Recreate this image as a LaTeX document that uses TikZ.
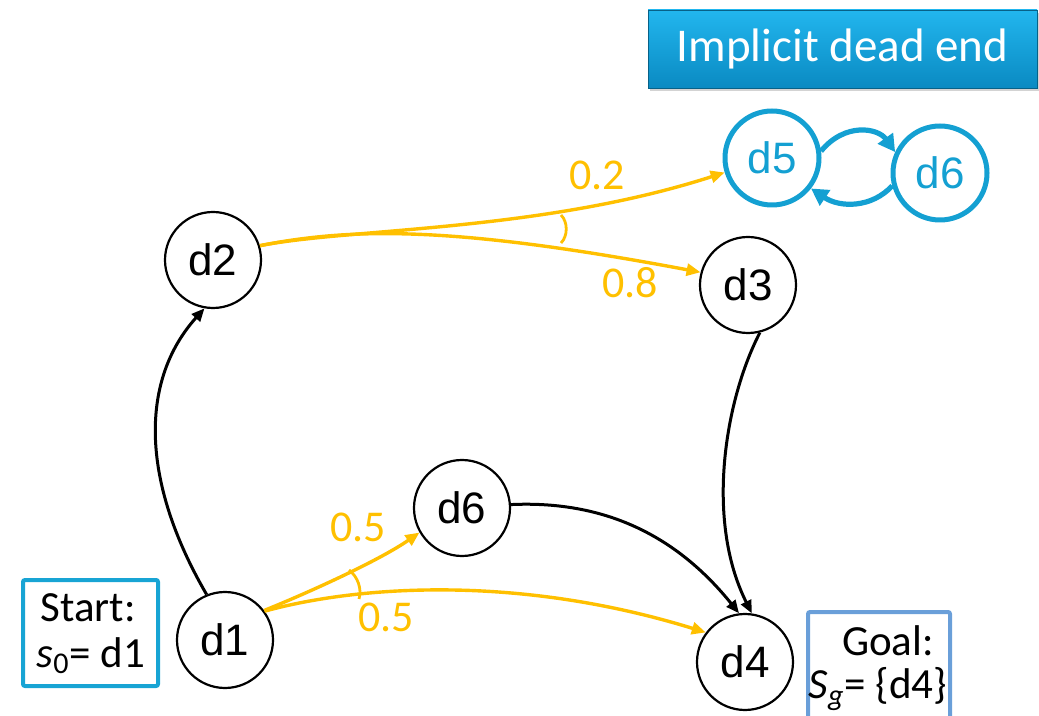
\documentclass[tikz,border=0pt]{standalone}
\usepackage{fontspec}
\setmainfont{Liberation Sans}
\newfontfamily\calib{Carlito}
\usetikzlibrary{arrows.meta,shadows}
\definecolor{yel}{HTML}{FFC000}
\definecolor{dblue}{HTML}{14A0D2}
\definecolor{startblue}{HTML}{18A4D4}
\definecolor{goalblue}{HTML}{6A9FD9}
\definecolor{titletop}{HTML}{22B6EE}
\definecolor{titlebot}{HTML}{0A8AC2}
\tikzset{
  state/.style={circle, draw, line width=1.1pt, minimum size=48pt, inner sep=0pt, font=\fontsize{22}{26}\selectfont},
  bstate/.style={circle, draw=dblue, text=dblue, line width=2.5pt, minimum size=47pt, inner sep=0pt, font=\fontsize{22}{26}\selectfont},
  blk/.style={line width=1.5pt, -{Triangle[length=6.5pt,width=5.5pt]}},
  yarr/.style={draw=yel, line width=1.7pt, -{Triangle[length=7pt,width=6pt]}},
  barr/.style={draw=dblue, line width=2.6pt, -{Triangle[length=8.5pt,width=9pt]}},
  ylab/.style={text=yel, font=\calib\fontsize{22}{26}\selectfont, inner sep=0pt},
  infobox/.style={draw, line width=2pt, rounded corners=1pt},
  infotext/.style={font=\calib\fontsize{21.5}{26}\selectfont, inner sep=0pt}
}
\begin{document}
\begin{tikzpicture}[x=0.5pt,y=-0.5pt]
\useasboundingbox (0,0) rectangle (1039,716);
% title
\node[draw=titlebot!70!black, line width=0.4pt, top color=titletop, bottom color=titlebot,
  minimum width=194.5pt, minimum height=39pt, inner sep=0pt,
  drop shadow={shadow xshift=0.8pt, shadow yshift=-1.5pt, opacity=0.35},
  text=white, font=\calib\fontsize{23.5}{28}\selectfont] (title) at (842.5,49) {Implicit dead end};
% nodes
\node[state] (d2) at (213,260) {d2};
\node[state] (d3) at (748,285) {d3};
\node[state] (d1) at (225,640) {d1};
\node[state] (d6) at (462,508) {d6};
\node[state] (d4) at (745,662) {d4};
\node[bstate] (d5b) at (772,158) {d5};
\node[bstate] (d6b) at (940,173) {d6};
% info boxes
\node[infobox, draw=startblue, minimum width=67.5pt, minimum height=53pt] (startbox) at (90.5,633) {};
\node[infotext] (starttxt) at (88,608) {Start:};
\node[infotext] (s0txt) at (91,656) {\textit{s}\textsubscript{0}= d1};
\node[infobox, draw=goalblue, minimum width=71pt, minimum height=56pt] (goalbox) at (879,668) {};
\node[infotext] (goaltxt) at (888,641) {Goal:};
\node[infotext] (sgtxt) at (878,689) {\textit{S}\textsubscript{\textit{g}}= \{d4\}};
% black edges
\draw[blk] (d1.112) .. controls (140,480) and (140,380) .. (d2.-100);
\draw[blk] (d3.-76) .. controls (725,400) and (705,520) .. (d4.82);
\draw[blk] (d6.4) .. controls (610,500) and (680,540) .. (d4.97);
% yellow edges
\draw[yarr] (d1.37) .. controls (310,592) and (380,560) .. (d6.210);
\draw[yarr] (d1.36) .. controls (360,585) and (520,575) .. (d4.143);
\draw[yarr] (d2.17) .. controls (350,228) and (540,232) .. (d5b.197);
\draw[yarr] (d2.17) .. controls (350,228) and (450,225) .. (d3.165);
% probability arcs
\draw[yel, line width=1.4pt] (561,215) .. controls (568,222) and (568,236) .. (561,243);
\draw[yel, line width=1.4pt] (349,570) .. controls (358,577) and (362,589) .. (359,599);
% labels
\node[ylab] (p02) at (597,175) {0.2};
\node[ylab] (p08) at (630,283) {0.8};
\node[ylab] (p05a) at (358,527) {0.5};
\node[ylab] (p05b) at (386,617) {0.5};
% blue loop
\draw[barr] (d5b.8) .. controls (845,122) and (878,128) .. (d6b.155);
\draw[barr] (d6b.195) .. controls (872,208) and (840,208) .. (d5b.-38);
\end{tikzpicture}
\end{document}
